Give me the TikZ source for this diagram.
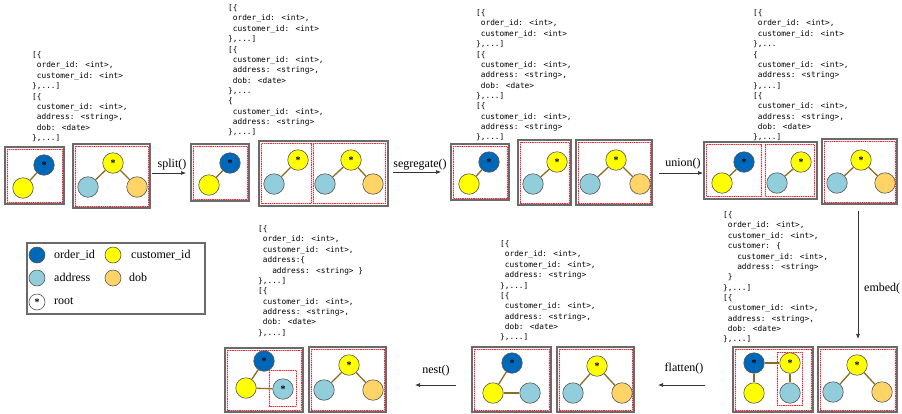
\documentclass[tikz,border=0pt]{standalone}
\usepackage{fontspec}
\setmainfont{Liberation Serif}
\newfontfamily\codefont{DejaVu Sans Mono}
\usetikzlibrary{calc,arrows.meta}
\definecolor{ordc}{HTML}{0068B8}
\definecolor{cusc}{HTML}{FFFF00}
\definecolor{adrc}{HTML}{92CDDC}
\definecolor{dobc}{HTML}{FFD466}
\definecolor{edgec}{HTML}{8C6D1F}
\definecolor{boxc}{HTML}{6A6A6A}
\definecolor{redc}{HTML}{FF2233}
\definecolor{pinkc}{HTML}{FFB0B8}
\newcommand\pz{\phantom{0}}
\newcommand\obx[5]{\node[obox, minimum width={#4-#2}, minimum height={#5-#3}] (#1) at ({(#2+#4)/2},{(#3+#5)/2}) {};}
\newcommand\rbox[2]{\draw[iboxu] #1 rectangle #2; \draw[ibox] #1 rectangle #2;}
\newcommand\obxi[5]{\obx{#1}{#2}{#3}{#4}{#5}\rbox{($(#1.north west)+(2.5,2.5)$)}{($(#1.south east)+(-2.5,-2.5)$)}}
\newcommand\cir[4]{\node[#1] (#2) at (#3,#4) {};}
\newcommand\rt[1]{\node[rootmark] (#1s) at (#1) {*};}
\begin{document}
\begin{tikzpicture}[x=1pt,y=-1pt,
 nd/.style={circle, draw=black!65, line width=0.6pt, minimum size=20.5pt, inner sep=0pt},
 ord/.style={nd, fill=ordc}, cus/.style={nd, fill=cusc}, adr/.style={nd, fill=adrc}, dob/.style={nd, fill=dobc},
 lnd/.style={minimum size=16pt},
 rootmark/.style={font=\bfseries\fontsize{10}{10}\selectfont, inner sep=0pt, yshift=0pt},
 edge/.style={draw=edgec, line width=1.3pt},
 obox/.style={draw=boxc, line width=1.1pt, rectangle, inner sep=0pt},
 iboxu/.style={draw=pinkc, line width=0.9pt},
 ibox/.style={draw=redc, dash pattern=on 1.2pt off 1pt, line width=0.9pt},
 arr/.style={draw=black!80, line width=0.7pt, -{Latex[length=5pt,width=4pt]}},
 lab/.style={font=\fontsize{12}{12}\selectfont, inner sep=0pt},
 code/.style={font=\codefont\fontsize{7.8}{10.35}\selectfont, align=left, anchor=north west, inner sep=0pt},
]
\useasboundingbox (0,0) rectangle (902,413);

% ---------- code texts ----------
\node[code] (t1) at (32,51.5) {[\{\\\pz order\_id: <int>,\\\pz customer\_id: <int>\\\},...]\\{}[\{\\\pz customer\_id: <int>,\\\pz address: <string>,\\\pz dob: <date>\\\},...]};
\node[code] (t2) at (228,4.5) {[\{\\\pz order\_id: <int>,\\\pz customer\_id: <int>\\\},...]\\{}[\{\\\pz customer\_id: <int>,\\\pz address: <string>,\\\pz dob: <date>\\\},...\\\{\\\pz customer\_id: <int>,\\\pz address: <string>\\\},...]};
\node[code] (t3) at (476,9.5) {[\{\\\pz order\_id: <int>,\\\pz customer\_id: <int>\\\},...]\\{}[\{\\\pz customer\_id: <int>,\\\pz address: <string>,\\\pz dob: <date>\\\},...]\\{}[\{\\\pz customer\_id: <int>,\\\pz address: <string>\\\},...]};
\node[code] (t4) at (753,9.5) {[\{\\\pz order\_id: <int>,\\\pz customer\_id: <int>\\\},...\\\{\\\pz customer\_id: <int>,\\\pz address: <string>\\\},...]\\{}[\{\\\pz customer\_id: <int>,\\\pz address: <string>,\\\pz dob: <date>\\\},...]};
\node[code] (t5) at (723,211.5) {[\{\\\pz order\_id: <int>,\\\pz customer\_id: <int>,\\\pz customer: \{\\\pz\pz\pz customer\_id: <int>,\\\pz\pz\pz address: <string>\\\pz\}\\\},...]\\{}[\{\\\pz customer\_id: <int>,\\\pz address: <string>,\\\pz dob: <date>\\\},...]};
\node[code] (t6) at (500,240.5) {[\{\\\pz order\_id: <int>,\\\pz customer\_id: <int>,\\\pz address: <string>\\\},...]\\{}[\{\\\pz customer\_id: <int>,\\\pz address: <string>,\\\pz dob: <date>\\\},...]};
\node[code] (t7) at (258,225.5) {[\{\\\pz order\_id: <int>,\\\pz customer\_id: <int>,\\\pz address:\{\\\pz\pz\pz address: <string> \}\\\},...]\\{}[\{\\\pz customer\_id: <int>,\\\pz address: <string>,\\\pz dob: <date>\\\},...]};

% ---------- boxes ----------
\obxi{A1}{5}{147}{64}{204}
\obxi{A2}{73}{144}{150}{208}
\obxi{B1}{191}{144}{249}{201}
\obx{B2}{259}{141}{388}{206}
\rbox{(261.5,143.5)}{(311,203.5)}
\rbox{(313,143.5)}{(385.5,203.5)}
\obxi{C1}{451}{144}{509}{200}
\obxi{C2}{518}{140}{571}{205}
\obxi{C3}{576}{140}{652}{205}
\obx{D1}{704}{142}{817}{199}
\rbox{(706.5,144.5)}{(761,196.5)}
\rbox{(765,144.5)}{(814.5,196.5)}
\obxi{D2}{822}{139}{897}{204}
\obxi{E1}{733}{347}{813}{412}
\rbox{(777,352)}{(802,405)}
\obxi{E2}{818}{347}{897}{412}
\obxi{F1}{472}{347}{551}{412}
\obxi{F2}{557}{347}{634}{412}
\obxi{G1}{225}{348}{303}{412}
\rbox{(269,370)}{(296,406)}
\obxi{G2}{309}{347}{386}{412}

% ---------- graphs ----------
\cir{ord}{a1o}{44}{165}\cir{cus}{a1c}{23}{188}
\draw[edge] (a1o) -- (a1c); \rt{a1o}
\cir{cus}{a2c}{113}{163}\cir{adr}{a2a}{88}{187}\cir{dob}{a2d}{137}{187}
\draw[edge] (a2c) -- (a2a); \draw[edge] (a2c) -- (a2d); \rt{a2c}

\cir{ord}{b1o}{230}{163}\cir{cus}{b1c}{209}{185}
\draw[edge] (b1o) -- (b1c); \rt{b1o}
\cir{cus}{b2c}{298}{160}\cir{adr}{b2a}{274}{184}
\draw[edge] (b2c) -- (b2a); \rt{b2c}
\cir{cus}{b3c}{351}{160}\cir{adr}{b3a}{325}{184}\cir{dob}{b3d}{373}{184}
\draw[edge] (b3c) -- (b3a); \draw[edge] (b3c) -- (b3d); \rt{b3c}

\cir{ord}{c1o}{489}{162}\cir{cus}{c1c}{469}{184}
\draw[edge] (c1o) -- (c1c); \rt{c1o}
\cir{cus}{c2c}{557}{162}\cir{adr}{c2a}{533}{184}
\draw[edge] (c2c) -- (c2a); \rt{c2c}
\cir{cus}{c3c}{616}{160}\cir{adr}{c3a}{590}{184}\cir{dob}{c3d}{640}{184}
\draw[edge] (c3c) -- (c3a); \draw[edge] (c3c) -- (c3d); \rt{c3c}

\cir{ord}{d1o}{744}{162}\cir{cus}{d1c}{722}{183}
\draw[edge] (d1o) -- (d1c); \rt{d1o}
\cir{cus}{d1y}{801}{162}\cir{adr}{d1a}{777}{183}
\draw[edge] (d1y) -- (d1a); \rt{d1y}
\cir{cus}{d2c}{861}{160}\cir{adr}{d2a}{837}{183}\cir{dob}{d2d}{885}{183}
\draw[edge] (d2c) -- (d2a); \draw[edge] (d2c) -- (d2d); \rt{d2c}

\cir{ord}{e1o}{754}{363}\cir{cus}{e1y}{790}{363}\cir{cus}{e1c}{754}{393}\cir{adr}{e1a}{790}{393}
\draw[edge] (e1o) -- (e1y); \draw[edge] (e1o) -- (e1c); \draw[edge] (e1y) -- (e1a); \rt{e1o}\rt{e1y}
\cir{cus}{e2c}{857}{365}\cir{adr}{e2a}{833}{392}\cir{dob}{e2d}{882}{392}
\draw[edge] (e2c) -- (e2a); \draw[edge] (e2c) -- (e2d); \rt{e2c}

\cir{ord}{f1o}{512}{363}\cir{cus}{f1c}{493}{393}\cir{adr}{f1a}{530}{393}
\draw[edge] (f1o) -- (f1c); \draw[edge] (f1c) -- (f1a); \rt{f1o}
\cir{cus}{f2c}{597}{366}\cir{adr}{f2a}{573}{393}\cir{dob}{f2d}{622}{393}
\draw[edge] (f2c) -- (f2a); \draw[edge] (f2c) -- (f2d); \rt{f2c}

\cir{ord}{g1o}{264}{361}\cir{cus}{g1c}{246}{388}\cir{adr}{g1a}{283}{389}
\draw[edge] (g1o) -- (g1c); \draw[edge] (g1c) -- (g1a); \rt{g1o}\rt{g1a}
\cir{cus}{g2c}{349}{365}\cir{adr}{g2a}{324}{390}\cir{dob}{g2d}{373}{390}
\draw[edge] (g2c) -- (g2a); \draw[edge] (g2c) -- (g2d); \rt{g2c}

% ---------- operation arrows ----------
\coordinate (s1a) at (152,173); \coordinate (s1b) at (186,173);
\draw[arr] (s1a) -- (s1b); \node[lab] (l1) at (172,165) {split()};
\coordinate (s2a) at (393,172); \coordinate (s2b) at (441,172);
\draw[arr] (s2a) -- (s2b); \node[lab] (l2) at (420,165) {segregate()};
\coordinate (s3a) at (659,173); \coordinate (s3b) at (703,173);
\draw[arr] (s3a) -- (s3b); \node[lab] (l3) at (683,164) {union()};
\coordinate (s4a) at (858,211); \coordinate (s4b) at (858,339);
\draw[arr] (s4a) -- (s4b); \node[lab, anchor=west] (l4) at (864,289) {embed(};
\coordinate (s5a) at (705,385); \coordinate (s5b) at (658,385);
\draw[arr] (s5a) -- (s5b); \node[lab] (l5) at (684,369) {flatten()};
\coordinate (s6a) at (456,385); \coordinate (s6b) at (415,385);
\draw[arr] (s6a) -- (s6b); \node[lab] (l6) at (436,371) {nest()};

% ---------- legend ----------
\obx{leg}{27}{243}{205}{314}
\cir{ord,lnd}{lo}{37}{255}\cir{cus,lnd}{ly}{113}{255}
\cir{adr,lnd}{la}{37}{278}\cir{dob,lnd}{ld}{113}{278}
\cir{nd,lnd,fill=white}{lr}{37}{302}\rt{lr}
\node[lab, anchor=west] (lt1) at (54,255) {order\_id};
\node[lab, anchor=west] (lt2) at (131,255) {customer\_id};
\node[lab, anchor=west] (lt3) at (54,277) {address};
\node[lab, anchor=west] (lt4) at (129,277) {dob};
\node[lab, anchor=west] (lt5) at (54,301) {root};
\end{tikzpicture}
\end{document}
